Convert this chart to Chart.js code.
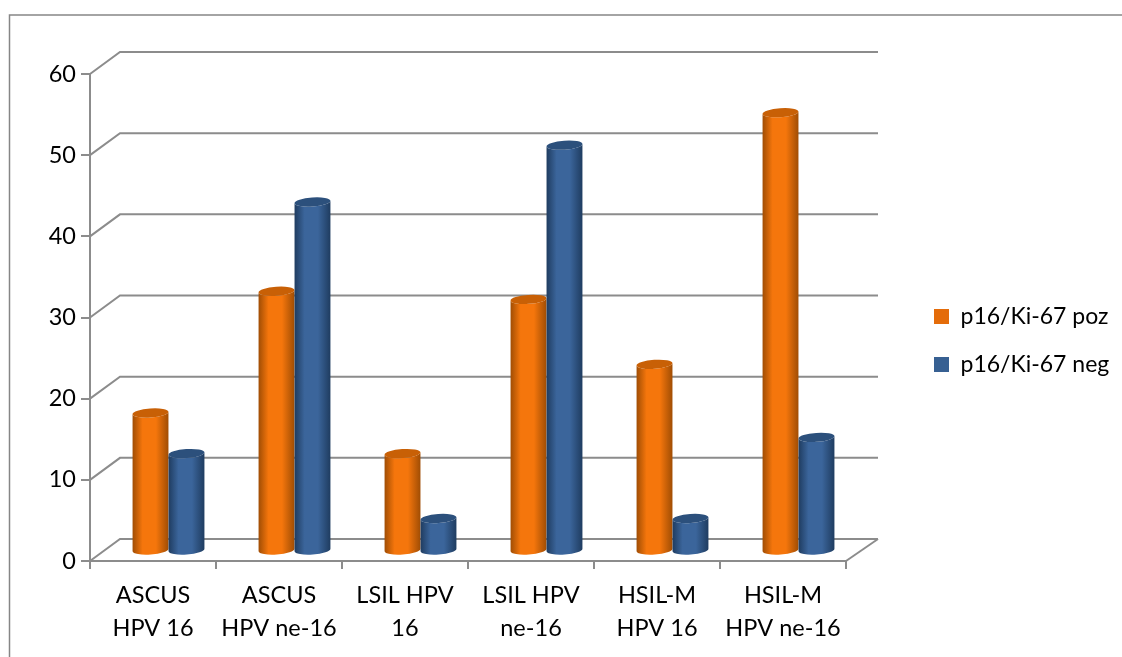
<!DOCTYPE html>
<html>
<head>
<meta charset="utf-8">
<script src="https://cdn.jsdelivr.net/npm/chart.js@4"></script>
<style>
html, body { margin: 0; padding: 0; background: #fff; overflow: hidden; }
#wrap { position: relative; width: 1122px; height: 657px; }
</style>
</head>
<body>
<div id="wrap"><canvas id="chart"></canvas></div>
<script>
const categories = [
    ['ASCUS', 'HPV 16'], ['ASCUS', 'HPV ne-16'], ['LSIL HPV', '16'],
    ['LSIL HPV', 'ne-16'], ['HSIL-M', 'HPV 16'], ['HSIL-M', 'HPV ne-16']
];
const pozValues = [17, 32, 12, 31, 23, 54];
const negValues = [12, 43, 4, 50, 4, 14];
const yTicks = [0, 10, 20, 30, 40, 50, 60];

const gray = '#8c8c8c';
const depthX = 30, depthY = -22;
const fontFamily = 'Lato, "Open Sans", sans-serif';
const fontSize = 23.5;

const shades = {
    poz: { swatch: '#e46c0a', edge: '#a04d04', mid: '#f5760c', cap: '#c86006' },
    neg: { swatch: '#376092', edge: '#1f3c60', mid: '#3b659b', cap: '#2c507c' }
};

// back walls, floor and the outer frame
const walls = {
    id: 'walls',
    beforeDatasetsDraw(chart) {
        const { ctx, scales: { x, y } } = chart;
        ctx.save();
        ctx.strokeStyle = '#868686';
        ctx.lineWidth = 1.5;
        ctx.beginPath();
        ctx.moveTo(1122, 15);
        ctx.lineTo(9.5, 15);
        ctx.lineTo(9.5, 657);
        ctx.stroke();

        ctx.strokeStyle = gray;
        ctx.lineWidth = 2;
        yTicks.forEach(v => {
            const py = y.getPixelForValue(v);
            ctx.beginPath();
            ctx.moveTo(x.left, py);
            ctx.lineTo(x.left + depthX, py + depthY);
            ctx.lineTo(x.right + depthX + 2, py + depthY);
            ctx.stroke();
        });
        const py0 = y.getPixelForValue(0);
        ctx.beginPath();
        ctx.moveTo(x.right, py0);
        ctx.lineTo(x.right + depthX + 2, py0 + depthY);
        ctx.stroke();
        ctx.restore();
    }
};

function cylinder(ctx, bar, c) {
    const w = bar.width, rx = w / 2, ry = 4.5, tilt = -0.07;
    const cx = bar.x + depthX / 2 + 0.5;
    const top = bar.y + depthY / 2 + 1, base = bar.base + depthY / 2 + 1;
    const g = ctx.createLinearGradient(cx - rx, 0, cx + rx, 0);
    g.addColorStop(0, c.edge);
    g.addColorStop(0.28, c.mid);
    g.addColorStop(0.65, c.mid);
    g.addColorStop(1, c.edge);
    ctx.fillStyle = g;
    ctx.beginPath();
    ctx.ellipse(cx, top, rx, ry, tilt, Math.PI, 0, true);
    ctx.ellipse(cx, base, rx, ry, tilt, 0, Math.PI, false);
    ctx.closePath();
    ctx.fill();
    ctx.fillStyle = c.cap;
    ctx.beginPath();
    ctx.ellipse(cx, top, rx, ry, tilt, 0, Math.PI * 2);
    ctx.fill();
}

const cylinders = {
    id: 'cylinders',
    afterDatasetsDraw(chart) {
        const ctx = chart.ctx;
        ctx.save();
        categories.forEach((_, i) => {
            cylinder(ctx, chart.getDatasetMeta(0).data[i], shades.poz);
            cylinder(ctx, chart.getDatasetMeta(1).data[i], shades.neg);
        });
        ctx.restore();
    }
};

// legend sits right of the walls without shrinking the plot
const placeLegend = {
    id: 'placeLegend',
    afterLayout(chart) {
        const l = chart.legend;
        const w = l.right - l.left, h = l.bottom - l.top;
        l.left = 909; l.right = 909 + w;
        l.top = 280; l.bottom = 280 + h;
    }
};

new Chart(document.querySelector('#chart').getContext('2d'), {
    type: 'bar',
    data: {
        labels: categories,
        datasets: [
            { label: 'p16/Ki-67 poz', data: pozValues, backgroundColor: 'transparent' },
            { label: 'p16/Ki-67 neg', data: negValues, backgroundColor: 'transparent' }
        ]
    },
    options: {
        responsive: true,
        maintainAspectRatio: false,
        animation: false,
        layout: { padding: { left: 0, top: 74, right: 276, bottom: 0 } },
        datasets: { bar: { categoryPercentage: 0.571, barPercentage: 1 } },
        scales: {
            x: {
                afterFit: s => { s.height = 96; },
                border: { color: gray, width: 2 },
                grid: { drawOnChartArea: false, color: gray, lineWidth: 2, tickLength: 8 },
                ticks: {
                    color: '#000', padding: 10, maxRotation: 0, autoSkip: false,
                    font: { family: fontFamily, size: fontSize, lineHeight: 1.4 }
                }
            },
            y: {
                min: 0, max: 60,
                afterFit: s => { s.width = 90; },
                border: { color: gray, width: 2 },
                grid: { drawOnChartArea: false, color: gray, lineWidth: 2, tickLength: 9 },
                ticks: {
                    color: '#000', stepSize: 10, padding: 5,
                    font: { family: fontFamily, size: fontSize }
                }
            }
        },
        plugins: {
            tooltip: { enabled: false },
            legend: {
                position: 'chartArea',
                align: 'start',
                labels: {
                    boxWidth: 15, boxHeight: 15, padding: 25, color: '#000',
                    font: { family: fontFamily, size: 23 },
                    generateLabels: () => [
                        { text: 'p16/Ki-67 poz', fillStyle: shades.poz.swatch, strokeStyle: shades.poz.swatch, lineWidth: 0 },
                        { text: 'p16/Ki-67 neg', fillStyle: shades.neg.swatch, strokeStyle: shades.neg.swatch, lineWidth: 0 }
                    ]
                }
            }
        }
    },
    plugins: [walls, cylinders, placeLegend]
});
</script>
</body>
</html>
